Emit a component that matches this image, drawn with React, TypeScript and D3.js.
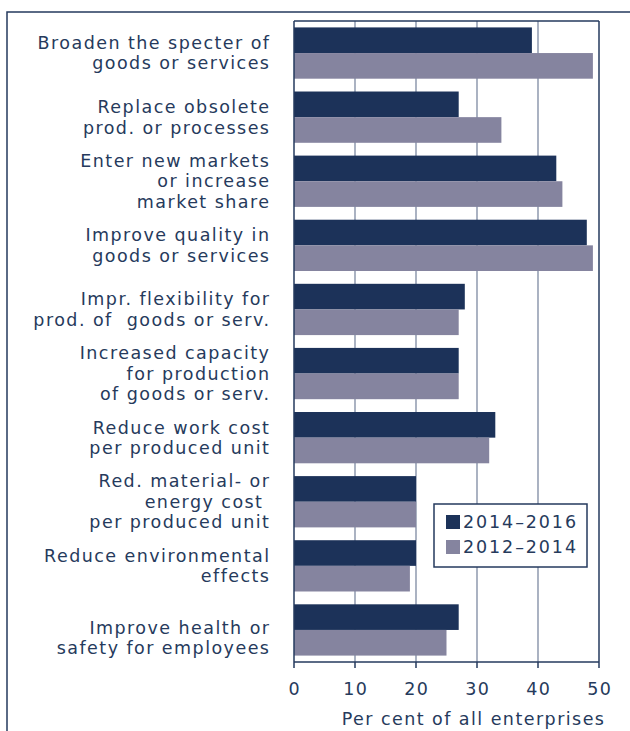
import React from "react";
import * as d3 from "d3";

const categories = [
  "Broaden the specter of\ngoods or services",
  "Replace obsolete\nprod. or processes",
  "Enter new markets\nor increase\nmarket share",
  "Improve quality in\ngoods or services",
  "Impr. flexibility for\nprod. of  goods or serv.",
  "Increased capacity\nfor production\nof goods or serv.",
  "Reduce work cost\nper produced unit",
  "Red. material- or\nenergy cost \nper produced unit",
  "Reduce environmental\neffects",
  "Improve health or\nsafety for employees",
];
const series = ["2014\u20132016", "2012\u20132014"];
const values2014_2016 = [39, 27, 43, 48, 28, 27, 33, 20, 20, 27];
const values2012_2014 = [49, 34, 44, 49, 27, 27, 32, 20, 19, 25];
const xTicks = [0, 10, 20, 30, 40, 50];
const axisTitle = "Per cent of all enterprises";

const W = 630;
const H = 731;
const left = 294;
const right = 599;
const top = 21;
const bottom = 662;
const colors = ["#1c3259", "#85849f"];
const textColor = "#263a5c";
const gridColor = "#8792a8";
const frameColor = "#253a5e";
const font = "'DejaVu Sans', Verdana, sans-serif";
const ls = 1.45;

export default function App() {
  const x = d3.scaleLinear().domain([0, 50]).range([left, right]);
  const y = d3
    .scaleBand<number>()
    .domain(d3.range(categories.length))
    .range([top, bottom])
    .paddingInner(0.2)
    .paddingOuter(0.1);
  const sub = d3.scaleBand<number>().domain([0, 1]).range([0, y.bandwidth()]);
  const seriesValues = [values2014_2016, values2012_2014];
  const lineH = 20.5;

  return (
    <svg
      width={W}
      height={H}
      style={{ position: "absolute", left: 0, top: 0, background: "#fff" }}
      fontFamily={font}
    >
      <rect x={7} y={12} width={700} height={800} fill="none" stroke={frameColor} strokeWidth={1.5} />
      {xTicks.slice(1, -1).map((t) => (
        <line key={t} x1={x(t)} x2={x(t)} y1={top} y2={bottom} stroke={gridColor} strokeWidth={1.4} />
      ))}
      {categories.map((c, i) =>
        seriesValues.map((vals, s) => (
          <rect
            key={`${i}-${s}`}
            x={x(0)}
            y={(y(i) as number) + (sub(s) as number)}
            width={x(vals[i]) - x(0)}
            height={sub.bandwidth()}
            fill={colors[s]}
          />
        ))
      )}
      <line x1={left} x2={right} y1={top} y2={top} stroke={frameColor} strokeWidth={1.5} />
      <line x1={left} x2={left} y1={top} y2={bottom} stroke={frameColor} strokeWidth={1.5} />
      <line x1={right} x2={right} y1={top} y2={bottom} stroke={frameColor} strokeWidth={1.5} />
      <line x1={left} x2={right} y1={bottom} y2={bottom} stroke={frameColor} strokeWidth={1.5} />
      {xTicks.map((t) => (
        <g key={t}>
          <line x1={x(t)} x2={x(t)} y1={bottom} y2={bottom + 6} stroke={frameColor} strokeWidth={1.5} />
          <text x={x(t) + ls / 2} y={695} textAnchor="middle" fontSize={17.5} fill={textColor} letterSpacing={ls}>
            {t}
          </text>
        </g>
      ))}
      <text x={604 + ls} y={725} textAnchor="end" fontSize={17.5} fill={textColor} letterSpacing={ls}>
        {axisTitle}
      </text>
      {categories.map((c, i) => {
        const lines = c.split("\n");
        const cy = (y(i) as number) + y.bandwidth() / 2 + (i === categories.length - 1 ? 8 : 0);
        const y0 = cy - ((lines.length - 1) * lineH) / 2;
        return (
          <text key={i} textAnchor="end" fontSize={17.5} fill={textColor} letterSpacing={ls} style={{ whiteSpace: "pre" }}>
            {lines.map((l, k) => (
              <tspan key={k} x={269 + ls} y={y0 + k * lineH} dy="0.35em">
                {l}
              </tspan>
            ))}
          </text>
        );
      })}
      <rect x={434} y={504} width={153} height={63} fill="#fff" stroke={frameColor} strokeWidth={1.5} />
      {series.map((s, k) => (
        <g key={s}>
          <rect x={446} y={515 + k * 25} width={14} height={14} fill={colors[k]} />
          <text x={463} y={528 + k * 25} fontSize={17.5} fill={textColor} letterSpacing={1.9}>
            {s}
          </text>
        </g>
      ))}
    </svg>
  );
}
